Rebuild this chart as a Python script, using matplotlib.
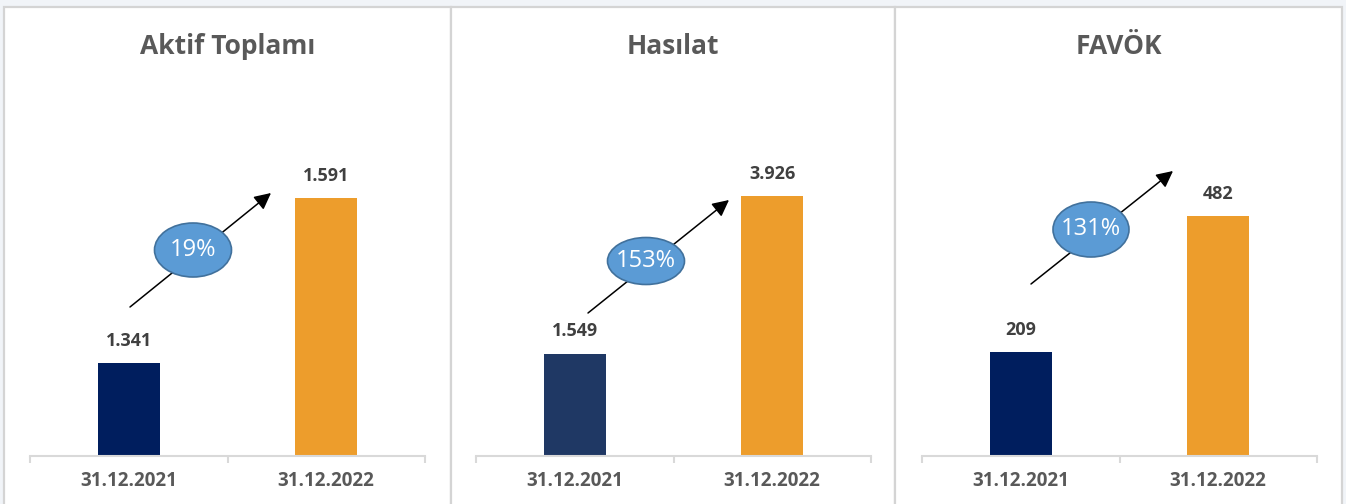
import matplotlib
matplotlib.use("Agg")
import matplotlib.pyplot as plt
from matplotlib.patches import Rectangle, Ellipse, FancyArrowPatch

plt.rcParams['font.family'] = ['Open Sans', 'DejaVu Sans']

# ---- data ----
titles = ["Aktif Toplamı", "Hasılat", "FAVÖK"]
categories = ["31.12.2021", "31.12.2022"]
values_2021 = [1341, 1549, 209]
values_2022 = [1591, 3926, 482]
growth_labels = ["19%", "153%", "131%"]
y_limits = [(1200, 1739), (0, 5380), (0, 715)]

# ---- styles ----
W, H = 1346, 504
navy_colors = ["#001E5E", "#1F3864", "#001E5E"]
orange = "#ED9D2C"
bg = "#F1F4F8"
border = "#D4D4D4"
title_color = "#595959"
label_color = "#404040"

fig = plt.figure(figsize=(W / 100, H / 100), dpi=100)
fig.patch.set_facecolor(bg)

def fx(px):
    return px / W

def fy(py):
    return 1 - py / H

# panel frames (pixel coords)
panels = [(4, 451), (451, 895), (895, 1342)]
for (x0, x1) in panels:
    fig.patches.append(Rectangle((fx(x0), fy(H + 10)), fx(x1) - fx(x0), fy(7) - fy(H + 10),
                                 transform=fig.transFigure, facecolor="white",
                                 edgecolor=border, linewidth=1.6, zorder=-5))

axis_left = [30, 476, 922]
axis_width = 395
axis_y = 456
axis_top = 100

# annotation geometry (pixel coords): arrow start, arrow end, ellipse center, ellipse size
arrows = [((130, 307), (271, 193)), ((588, 313), (729, 200)), ((1031, 284), (1173, 171))]
ellipses = [((193, 250), 77, 54), ((646, 261), 77, 47), ((1091, 229.5), 76, 55)]

for i in range(3):
    ax = fig.add_axes([fx(axis_left[i]), fy(axis_y), axis_width / W, (axis_y - axis_top) / H])
    ax.set_facecolor("none")
    ax.set_zorder(1)
    vals = [values_2021[i], values_2022[i]]
    cols = [navy_colors[i], orange]
    bars = ax.bar([0, 1], vals, width=0.314, color=cols, zorder=2)
    ax.set_xlim(-0.5, 1.5)
    ax.set_ylim(*y_limits[i])
    for b, v in zip(bars, vals):
        txt = f"{v:,}".replace(",", ".")
        ax.annotate(txt, (b.get_x() + b.get_width() / 2, v), xytext=(0, 16),
                    textcoords="offset points", ha="center", va="center",
                    fontsize=13, fontweight="bold", color=label_color,
                    annotation_clip=False)
    for s in ["top", "right", "left"]:
        ax.spines[s].set_visible(False)
    ax.spines["bottom"].set_color("#D9D9D9")
    ax.spines["bottom"].set_linewidth(1.5)
    ax.set_yticks([])
    ax.set_xticks([-0.5, 0.5, 1.5], minor=False)
    ax.set_xticklabels([])
    ax.tick_params(axis="x", which="major", length=5, width=1.5, color="#D9D9D9")
    ax.set_xticks([0, 1], minor=True)
    ax.set_xticklabels(categories, minor=True)
    ax.tick_params(axis="x", which="minor", length=0, pad=11, labelsize=13.5,
                   labelcolor=title_color)
    for lbl in ax.get_xticklabels(minor=True):
        lbl.set_fontweight("bold")

    # title
    cx = (panels[i][0] + panels[i][1]) / 2
    fig.text(fx(cx), fy(47), titles[i], ha="center", va="center", fontsize=19,
             fontweight="bold", color=title_color)

    # arrow
    (sx, sy), (ex, ey) = arrows[i]
    arr = FancyArrowPatch((fx(sx), fy(sy)), (fx(ex), fy(ey)), transform=fig.transFigure,
                          arrowstyle="-|>,head_length=10,head_width=5", mutation_scale=1,
                          color="black", linewidth=1.1, zorder=5, shrinkA=0, shrinkB=0)
    fig.patches.append(arr)

    (ecx, ecy), ew, eh = ellipses[i]
    fig.patches.append(Ellipse((fx(ecx), fy(ecy)), ew / W, eh / H, transform=fig.transFigure,
                               facecolor="#5B9BD5", edgecolor="#41719C", linewidth=1.2,
                               zorder=6))
    fig.text(fx(ecx), fy(ecy), growth_labels[i], ha="center", va="center", fontsize=17,
             color="white", zorder=7)

fig.savefig("out.png", dpi=100, facecolor=fig.get_facecolor())
